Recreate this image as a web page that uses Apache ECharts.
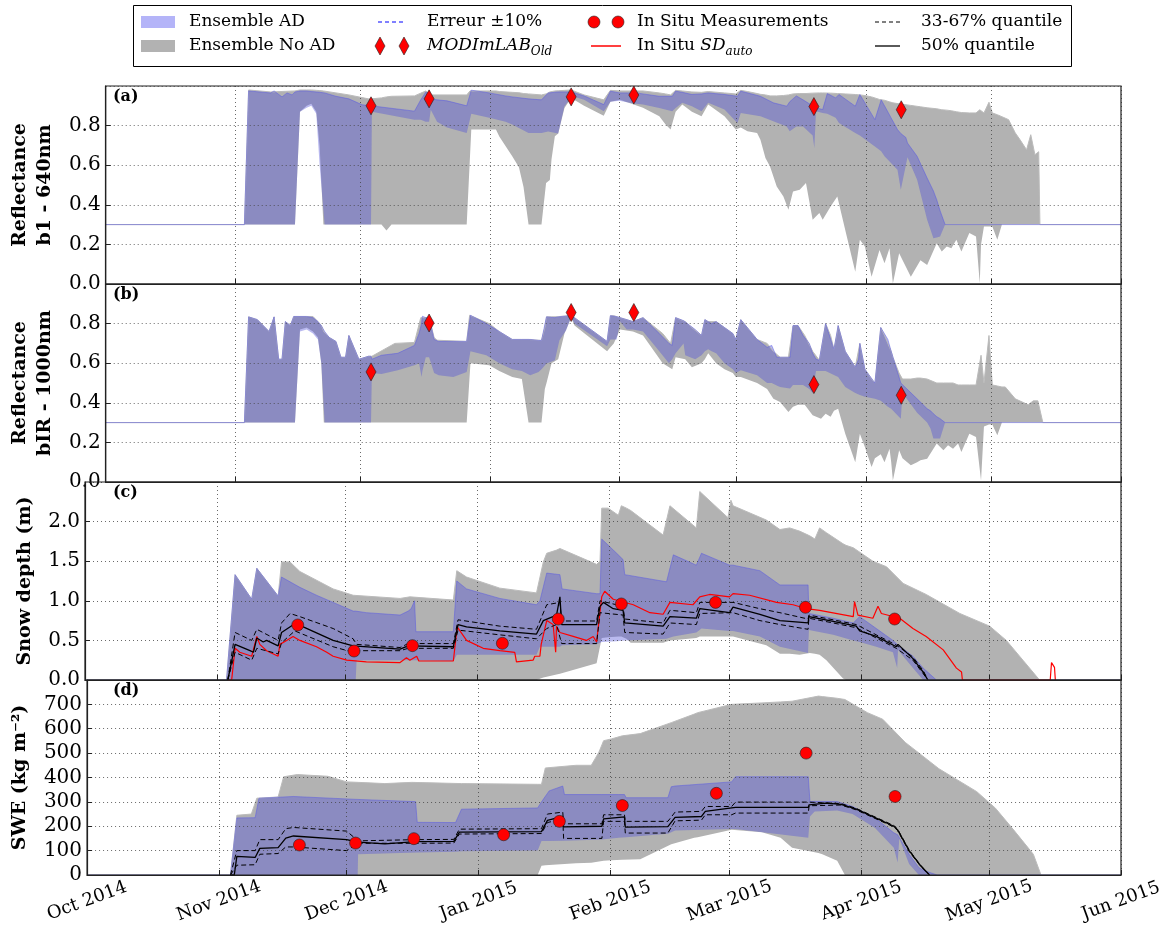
<!DOCTYPE html>
<html><head><meta charset="utf-8">
<script src="https://cdn.jsdelivr.net/npm/echarts@6/dist/echarts.min.js"></script>
<style>html,body{margin:0;padding:0;background:#fff}#c{width:1173px;height:926px}</style>
</head><body><div id="c"></div>
<script>
// x positions are days since 1 Oct 2014
const monthDays = [0, 31, 61, 92, 123, 151, 182, 212, 243];
const monthLabels = ['Oct 2014','Nov 2014','Dec 2014','Jan 2015','Feb 2015','Mar 2015','Apr 2015','May 2015','Jun 2015'];

// bands: [day, lower, upper]
const A_GREY = [[0,0.3,0.3],[33.2,0.3,0.3],[34.2,0.3,0.98],[39.5,0.3,0.97],[45.3,0.3,0.975],[46.5,0.87,0.98],[48.1,0.9,0.98],[49.2,0.91,0.98],[50.4,0.87,0.978],[51.2,0.7,0.977],[52.1,0.3,0.975],[58.2,0.3,0.955],[62.9,0.3,0.935],[63.6,0.3,0.935],[66.0,0.3,0.94],[67.2,0.27,0.945],[68.4,0.3,0.948],[73.9,0.3,0.95],[76.6,0.3,0.975],[77.8,0.3,0.955],[86.4,0.3,0.955],[87.2,0.78,0.975],[87.5,0.78,0.98],[93.4,0.78,0.975],[94.2,0.745,0.972],[97.3,0.645,0.968],[98.9,0.59,0.966],[100.0,0.49,0.962],[101.2,0.3,0.96],[104.3,0.3,0.955],[105.4,0.51,0.96],[106.3,0.525,0.97],[106.7,0.63,0.975],[107.5,0.746,0.975],[108.3,0.76,0.976],[109.8,0.889,0.978],[111.4,0.94,0.98],[114.5,0.9,0.955],[119.2,0.85,0.93],[120.8,0.92,0.978],[123.1,0.93,0.975],[128.6,0.89,0.975],[132.5,0.847,0.965],[134.0,0.805,0.96],[135.2,0.78,0.955],[136.4,0.87,0.978],[138.0,0.906,0.975],[140.3,0.87,0.97],[142.6,0.847,0.968],[144.2,0.906,0.972],[148.1,0.847,0.965],[150.8,0.78,0.96],[152.0,0.79,0.978],[153.6,0.771,0.972],[155.9,0.763,0.962],[156.7,0.729,0.958],[157.9,0.636,0.955],[159.0,0.594,0.95],[160.6,0.493,0.95],[162.2,0.442,0.952],[163.4,0.375,0.955],[164.5,0.467,0.96],[166.1,0.476,0.962],[167.6,0.51,0.962],[169.2,0.324,0.964],[170.8,0.358,0.965],[171.6,0.324,0.965],[173.5,0.392,0.964],[175.1,0.442,0.962],[177.0,0.273,0.96],[179.4,0.062,0.957],[180.5,0.223,0.955],[181.7,0.189,0.952],[183.3,0.037,0.945],[185.2,0.172,0.932],[186.4,0.105,0.928],[187.6,0.18,0.92],[188.4,0.003,0.915],[189.9,0.155,0.91],[192.7,0.037,0.902],[195.0,0.12,0.895],[196.6,0.096,0.89],[198.9,0.206,0.885],[200.1,0.164,0.88],[201.3,0.189,0.878],[202.4,0.18,0.875],[203.6,0.223,0.87],[204.8,0.164,0.866],[206.7,0.257,0.864],[208.3,0.24,0.864],[209.2,0.003,0.88],[209.5,0.2,0.889],[210.2,0.29,0.864],[211.4,0.29,0.918],[212.2,0.29,0.864],[213.4,0.223,0.855],[214.5,0.3,0.845],[216.1,0.3,0.83],[217.7,0.3,0.763],[218.8,0.3,0.73],[220.4,0.3,0.678],[221.4,0.3,0.754],[222.4,0.3,0.653],[223.3,0.3,0.668],[223.6,0.3,0.3],[243,0.3,0.3]];
const A_BLUE = [[0,0.3,0.3],[33.2,0.3,0.3],[34.2,0.3,0.975],[39.5,0.3,0.965],[40.3,0.3,0.975],[42.2,0.3,0.945],[43.4,0.3,0.965],[44.6,0.3,0.955],[45.3,0.3,0.97],[46.5,0.87,0.975],[48.1,0.89,0.975],[49.2,0.9,0.972],[50.4,0.86,0.97],[51.2,0.6,0.968],[52.4,0.3,0.965],[55.1,0.3,0.948],[58.2,0.3,0.935],[61.4,0.3,0.905],[63.5,0.3,0.9],[63.7,0.87,0.9],[73.9,0.83,0.873],[75.4,0.83,0.93],[76.6,0.82,0.969],[77.4,0.82,0.96],[77.8,0.88,0.935],[79.3,0.82,0.93],[81.7,0.79,0.925],[86.4,0.763,0.9],[87.5,0.86,0.979],[91.8,0.84,0.965],[95.7,0.82,0.95],[97.3,0.805,0.945],[101.2,0.763,0.935],[104.3,0.763,0.93],[105.9,0.77,0.965],[108.3,0.76,0.97],[109.8,0.898,0.97],[111.0,0.93,0.97],[111.5,0.95,0.97],[114.5,0.93,0.95],[119.2,0.872,0.906],[120.8,0.92,0.974],[123.0,0.925,0.965],[124.7,0.918,0.965],[127.0,0.91,0.965],[128.6,0.906,0.96],[132.5,0.889,0.948],[135.6,0.872,0.948],[136.4,0.889,0.974],[138.0,0.915,0.968],[140.3,0.898,0.957],[142.6,0.872,0.96],[144.2,0.915,0.965],[148.1,0.881,0.957],[151.2,0.813,0.948],[152.0,0.864,0.974],[156.7,0.847,0.948],[159.8,0.822,0.915],[163.0,0.796,0.898],[163.7,0.771,0.92],[165.3,0.796,0.95],[166.9,0.796,0.93],[169.2,0.75,0.9],[169.6,0.687,0.895],[170.0,0.872,0.89],[171.6,0.864,0.881],[172.7,0.86,0.962],[174.7,0.84,0.94],[175.5,0.813,0.957],[179.4,0.763,0.898],[180.5,0.75,0.957],[184.1,0.695,0.83],[185.6,0.67,0.93],[186.4,0.645,0.9],[189.5,0.577,0.78],[190.3,0.476,0.76],[191.5,0.645,0.74],[191.9,0.64,0.712],[194.2,0.527,0.645],[196.6,0.324,0.535],[198.1,0.231,0.47],[198.9,0.235,0.425],[199.7,0.24,0.37],[200.9,0.3,0.3],[243,0.3,0.3]];

const B_GREY = [[0,0.3,0.3],[33.2,0.3,0.3],[34.2,0.3,0.834],[36.3,0.3,0.82],[39.1,0.3,0.76],[40.3,0.3,0.834],[41.4,0.3,0.62],[42.2,0.3,0.62],[43.0,0.3,0.81],[44.2,0.3,0.79],[45.0,0.3,0.836],[45.3,0.3,0.836],[46.5,0.77,0.836],[48.1,0.78,0.836],[49.6,0.76,0.836],[50.8,0.73,0.81],[51.6,0.6,0.79],[52.2,0.3,0.76],[53.5,0.3,0.73],[55.1,0.3,0.71],[56.3,0.3,0.63],[57.4,0.3,0.63],[58.2,0.3,0.74],[60.6,0.3,0.62],[62.9,0.3,0.635],[63.7,0.3,0.635],[69.2,0.3,0.7],[73.9,0.3,0.705],[75.4,0.3,0.83],[77.4,0.3,0.83],[78.6,0.3,0.73],[79.3,0.3,0.716],[86.4,0.3,0.71],[87.1,0.6,0.842],[87.3,0.6,0.842],[91.8,0.59,0.8],[94.2,0.56,0.76],[97.3,0.53,0.72],[99.6,0.52,0.72],[101.2,0.3,0.72],[104.3,0.3,0.715],[105.1,0.47,0.78],[105.5,0.5,0.834],[106.7,0.6,0.834],[108.3,0.62,0.835],[109.8,0.75,0.838],[111.4,0.83,0.84],[112.2,0.79,0.83],[120.0,0.66,0.71],[120.8,0.68,0.84],[121.6,0.7,0.84],[123.1,0.77,0.83],[126.2,0.76,0.81],[128.6,0.74,0.83],[133.3,0.6,0.75],[135.2,0.57,0.7],[135.6,0.57,0.69],[136.4,0.63,0.83],[138.7,0.62,0.81],[140.3,0.58,0.78],[142.6,0.6,0.74],[143.4,0.62,0.82],[144.2,0.65,0.81],[146.1,0.6,0.81],[148.1,0.57,0.78],[150.1,0.55,0.75],[150.8,0.53,0.72],[152.0,0.53,0.82],[155.9,0.5,0.72],[158.3,0.47,0.7],[159.8,0.42,0.66],[161.4,0.404,0.63],[163.4,0.354,0.63],[164.5,0.38,0.79],[165.7,0.39,0.79],[167.3,0.39,0.74],[169.2,0.337,0.66],[170.8,0.32,0.615],[171.2,0.32,0.62],[172.3,0.345,0.8],[173.5,0.33,0.74],[174.3,0.36,0.67],[175.1,0.38,0.76],[175.3,0.37,0.79],[177.0,0.244,0.66],[179.4,0.1,0.58],[180.5,0.244,0.7],[181.7,0.177,0.57],[183.3,0.076,0.52],[184.1,0.12,0.5],[185.2,0.15,0.72],[185.5,0.14,0.78],[186.4,0.1,0.74],[187.6,0.168,0.68],[188.0,0.1,0.66],[188.4,0.008,0.63],[189.9,0.16,0.55],[190.7,0.12,0.52],[192.7,0.084,0.52],[194.2,0.1,0.525],[195.0,0.11,0.525],[196.6,0.118,0.52],[198.9,0.194,0.5],[200.5,0.16,0.5],[201.6,0.185,0.5],[202.8,0.168,0.5],[204.0,0.194,0.49],[204.8,0.152,0.49],[206.7,0.244,0.49],[208.3,0.227,0.49],[209.5,0.008,0.64],[210.2,0.28,0.5],[211.4,0.29,0.74],[212.2,0.29,0.49],[213.4,0.236,0.485],[214.5,0.3,0.48],[215.3,0.3,0.48],[217.7,0.3,0.42],[220.8,0.3,0.39],[222.0,0.3,0.41],[223.1,0.3,0.41],[224.3,0.3,0.3],[243,0.3,0.3]];
const B_BLUE = [[0,0.3,0.3],[33.2,0.3,0.3],[34.2,0.3,0.834],[36.3,0.3,0.82],[39.1,0.3,0.76],[40.3,0.3,0.834],[41.4,0.3,0.62],[42.2,0.3,0.62],[43.0,0.3,0.81],[44.2,0.3,0.79],[45.0,0.3,0.836],[45.3,0.3,0.836],[46.5,0.76,0.836],[48.1,0.77,0.836],[49.6,0.75,0.83],[50.8,0.72,0.81],[51.6,0.6,0.79],[52.4,0.3,0.76],[53.5,0.3,0.73],[55.1,0.3,0.71],[56.3,0.3,0.63],[57.4,0.3,0.63],[58.2,0.3,0.74],[60.6,0.3,0.62],[62.9,0.3,0.635],[63.5,0.3,0.635],[63.7,0.55,0.62],[66.0,0.545,0.64],[69.9,0.565,0.65],[73.9,0.59,0.69],[75.0,0.6,0.75],[75.6,0.53,0.8],[75.8,0.56,0.837],[76.6,0.63,0.83],[77.4,0.63,0.83],[78.6,0.55,0.72],[79.7,0.539,0.71],[83.2,0.53,0.71],[86.4,0.556,0.71],[87.3,0.66,0.842],[91.1,0.64,0.8],[94.2,0.6,0.76],[97.3,0.57,0.72],[99.6,0.56,0.72],[101.6,0.539,0.72],[103.6,0.556,0.715],[104.3,0.57,0.715],[105.5,0.598,0.834],[107.5,0.615,0.83],[108.6,0.716,0.835],[110.2,0.766,0.838],[111.4,0.834,0.84],[112.2,0.8,0.83],[120.0,0.685,0.71],[120.8,0.72,0.84],[122.3,0.72,0.835],[123.1,0.81,0.83],[124.7,0.77,0.82],[126.2,0.77,0.81],[128.6,0.76,0.83],[132.5,0.66,0.75],[134.8,0.6,0.7],[135.6,0.62,0.69],[136.4,0.65,0.83],[138.3,0.7,0.815],[138.7,0.64,0.81],[141.1,0.62,0.77],[142.6,0.64,0.74],[143.4,0.66,0.82],[144.2,0.67,0.81],[145.0,0.66,0.8],[146.1,0.65,0.81],[148.1,0.6,0.78],[150.1,0.57,0.75],[150.8,0.55,0.72],[152.0,0.564,0.82],[155.9,0.539,0.72],[158.3,0.5,0.68],[159.4,0.5,0.69],[160.6,0.488,0.63],[161.4,0.48,0.63],[163.8,0.472,0.63],[164.5,0.49,0.79],[165.7,0.49,0.79],[166.9,0.49,0.74],[168.4,0.47,0.7],[169.2,0.45,0.65],[170.0,0.56,0.62],[170.8,0.56,0.615],[172.3,0.56,0.8],[174.3,0.54,0.67],[175.3,0.53,0.79],[177.0,0.48,0.66],[179.4,0.45,0.58],[180.2,0.44,0.62],[180.5,0.44,0.7],[181.7,0.43,0.57],[184.1,0.42,0.5],[185.5,0.41,0.78],[187.2,0.38,0.72],[188.0,0.37,0.66],[190.3,0.32,0.5],[190.7,0.45,0.5],[194.2,0.35,0.42],[196.6,0.3,0.37],[197.4,0.27,0.36],[198.1,0.22,0.345],[198.9,0.22,0.33],[199.7,0.22,0.32],[200.9,0.3,0.3],[243,0.3,0.3]];

const C_GREY = [[0,0,0],[33.2,0,0],[35.2,0,1.33],[39.1,0,1.02],[40.3,0,1.41],[45.3,0,1.06],[46.1,0,1.49],[48.1,0,1.49],[50.4,0,1.37],[58.2,0,1.15],[62.9,0,1.07],[73.9,0,1.03],[76.2,0,1.05],[86.4,0,1.01],[87.2,0,1.38],[89.5,0,1.3],[97.3,0,1.16],[105.9,0,1.1],[107.5,0.03,1.49],[108.3,0.04,1.6],[110.6,0.07,1.64],[111.4,0.08,1.66],[120.0,0.21,1.46],[120.8,0.53,1.5],[121.2,0.53,2.17],[122.7,0.54,2.17],[125.1,0.55,2.08],[125.8,0.55,2.2],[127.0,0.52,2.17],[128.0,0.47,2.14],[135.6,0.47,1.83],[137.2,0.5,2.2],[143.4,0.53,1.92],[144.2,0.55,2.38],[150.8,0.55,2.05],[151.5,0.55,2.27],[152.0,0.55,2.2],[159.8,0.44,2.02],[163.0,0.33,1.9],[165.3,0.33,1.92],[167.6,0.32,1.88],[170.0,0.34,1.82],[171.2,0.33,1.78],[172.3,0.32,1.92],[173.9,0.25,1.86],[177.8,0.02,1.72],[178.5,0,1.7],[180.2,0,1.67],[184.8,0,1.5],[188.0,0,1.43],[191.9,0,1.22],[197.3,0,1.08],[205.2,0,0.84],[212.2,0,0.68],[216.1,0,0.5],[220.0,0,0.25],[223.9,0,0],[243,0,0]];
const C_BLUE = [[0,0,0],[33.2,0,0],[35.2,0,1.33],[39.1,0,1.02],[40.3,0,1.41],[45.3,0,1.06],[46.1,0,1.3],[50.4,0,1.17],[54.3,0,1.07],[58.2,0,0.98],[62.9,0,0.87],[63.5,0,0.87],[63.7,0.25,0.87],[66.0,0.25,0.85],[73.9,0.25,0.82],[75.8,0.25,0.87],[76.5,0.25,0.9],[77.3,0.25,1.0],[77.6,0.25,0.61],[86.4,0.24,0.61],[87.2,0.32,1.25],[89.5,0.32,1.15],[97.3,0.32,1.03],[105.9,0.32,0.95],[106.7,0.42,1.0],[108.3,0.42,1.35],[111.4,0.42,1.33],[111.9,0.44,1.15],[120.0,0.45,1.09],[120.8,0.48,1.09],[121.2,0.48,1.78],[124.7,0.49,1.6],[126.2,0.5,1.52],[126.6,0.5,1.33],[136.4,0.52,1.24],[138.0,0.55,1.58],[143.4,0.6,1.45],[144.6,0.65,1.6],[151.2,0.62,1.45],[152.0,0.62,1.45],[158.3,0.55,1.38],[163.0,0.42,1.2],[169.6,0.34,1.2],[169.8,0.63,0.84],[175.5,0.57,0.78],[180.2,0.5,0.72],[181.7,0.48,0.8],[185.6,0.42,0.65],[189.5,0.35,0.5],[190.5,0.15,0.45],[190.7,0.38,0.45],[194.2,0.15,0.3],[196.6,0,0.15],[199.7,0,0],[243,0,0]];

const D_GREY = [[0,0,0],[33.7,0,0],[35.2,0,245],[38.6,0,250],[39.9,0,315],[44.9,0,320],[46.2,0,403],[49.4,0,412],[56.6,0,405],[61.0,0,382],[63.7,0,380],[70.0,0,375],[76.3,0,380],[88.0,0,375],[105.9,0,372],[106.8,38,372],[107.7,40,439],[114.9,48,450],[118.5,50,450],[120.3,55,504],[121.4,58,551],[123.2,60,558],[125.8,62,571],[130.0,65,580],[137.3,126,625],[142.7,153,660],[143.5,155,666],[151.5,186,700],[158.6,175,706],[163.0,153,710],[165.7,112,713],[171.9,90,734],[172.8,85,732],[176.3,58,725],[178.1,0,720],[183.4,0,666],[187.0,0,639],[192.3,0,544],[200.2,0,436],[209.1,0,342],[213.5,0,274],[218.0,0,180],[222.4,0,85],[224.2,0,0],[243,0,0]];
const D_BLUE = [[0,0,0],[33.7,0,0],[35.2,0,234],[39.5,0,235],[40.4,0,315],[48.5,0,322],[61.0,0,312],[63.6,0,310],[63.7,85,310],[77.2,92,301],[77.6,92,216],[86.6,95,215],[88.0,97,270],[105.9,100,275],[106.8,139,300],[108.6,139,345],[111.8,140,365],[112.2,140,330],[121.0,146,330],[124.9,153,330],[126.3,155,330],[126.7,155,317],[136.5,169,317],[137.3,175,362],[138.2,182,365],[151.5,189,382],[152.4,189,403],[169.5,153,403],[169.9,240,301],[171.0,260,302],[176.3,265,301],[179.9,250,281],[185.2,193,234],[189.6,112,173],[190.5,51,165],[190.9,150,165],[193.2,45,85],[195.5,0,30],[196.7,0,18],[199.8,0,0],[243,0,0]];

// lines: [day, value]
const C_MEDIAN = [[33.5,0],[35.2,0.45],[38.7,0.37],[39.5,0.35],[40.3,0.53],[41.8,0.48],[42.6,0.5],[45.3,0.43],[46.1,0.6],[49.2,0.71],[50.4,0.69],[58.2,0.5],[62.9,0.43],[73.9,0.39],[75.8,0.43],[86.4,0.42],[87.5,0.7],[89.5,0.67],[97.3,0.62],[105.9,0.58],[107.5,0.75],[110.6,0.82],[111.4,1.05],[111.8,0.7],[120.0,0.7],[120.8,0.93],[121.6,0.98],[123.9,0.9],[126.2,0.88],[126.6,0.72],[135.6,0.68],[137.2,0.8],[143.4,0.78],[144.2,0.9],[151.2,0.85],[152.0,0.92],[158.3,0.83],[163.0,0.75],[169.6,0.72],[169.8,0.8],[175.5,0.74],[180.9,0.68],[181.7,0.62],[185.6,0.55],[190.3,0.42],[190.7,0.45],[194.2,0.27],[196.6,0.1],[197.7,0]];
const C_Q67 = [[33.5,0],[35.2,0.6],[39.1,0.5],[40.3,0.64],[45.3,0.5],[46.1,0.72],[48.1,0.84],[50.4,0.8],[58.2,0.65],[62.9,0.52],[63.7,0.45],[73.9,0.41],[75.8,0.46],[86.4,0.46],[87.5,0.76],[97.3,0.68],[105.9,0.64],[108.3,0.95],[111.4,0.98],[111.8,0.745],[120.0,0.745],[120.8,1.0],[126.2,0.93],[126.6,0.77],[135.6,0.72],[137.2,0.88],[143.4,0.85],[144.2,0.98],[152.0,0.98],[158.3,0.9],[163.0,0.85],[169.6,0.77],[169.8,0.82],[175.5,0.76],[180.9,0.7],[185.6,0.57],[190.3,0.44],[194.2,0.29],[196.6,0.12],[197.7,0]];
const C_Q33 = [[33.5,0],[35.2,0.35],[39.1,0.25],[40.3,0.4],[45.3,0.33],[46.1,0.47],[49.2,0.62],[58.2,0.42],[62.9,0.35],[63.7,0.37],[73.9,0.37],[75.8,0.4],[86.4,0.4],[87.5,0.63],[97.3,0.57],[105.9,0.52],[108.3,0.65],[110.6,0.7],[111.8,0.46],[120.0,0.46],[120.8,0.85],[126.2,0.82],[126.6,0.6],[135.6,0.58],[137.2,0.72],[143.4,0.7],[144.2,0.84],[152.0,0.85],[158.3,0.75],[163.0,0.7],[169.6,0.64],[169.8,0.78],[175.5,0.72],[180.9,0.66],[185.6,0.53],[190.3,0.4],[194.2,0.25],[196.6,0.08],[197.7,0]];
const C_SD_AUTO = [[33.5,0],[34.4,0],[35.2,0.4],[36.3,0.35],[39.1,0.3],[40.3,0.55],[41.0,0.45],[42.6,0.37],[45.3,0.3],[45.7,0.45],[47.3,0.5],[48.8,0.55],[50.4,0.5],[54.3,0.42],[56.7,0.35],[58.2,0.3],[61.4,0.25],[66.0,0.23],[73.9,0.22],[75.4,0.28],[76.2,0.25],[77.8,0.3],[78.3,0.24],[86.4,0.24],[87.3,0.67],[89.5,0.5],[93.4,0.4],[97.3,0.37],[100.8,0.35],[101.2,0.23],[105.1,0.25],[105.5,0.3],[106.7,0.3],[107.0,0.45],[108.3,0.75],[109.8,0.7],[110.4,0.35],[110.6,0.68],[111.4,0.6],[114.5,0.55],[117.6,0.5],[119.2,0.55],[120.0,0.48],[121.2,1.05],[121.9,1.12],[123.9,1.02],[128.6,0.95],[132.5,0.85],[135.6,0.83],[137.2,0.98],[142.6,0.95],[144.2,1.05],[146.5,1.08],[151.2,1.05],[152.0,1.09],[155.9,1.07],[162.2,0.98],[166.1,0.95],[169.2,0.9],[172.3,0.88],[180.2,0.8],[180.5,0.99],[181.3,0.82],[184.8,0.78],[186.0,0.93],[186.8,0.84],[191.1,0.78],[194.2,0.65],[197.3,0.55],[201.3,0.38],[204.4,0.15],[205.6,0.1],[205.8,0],[226.4,0],[226.7,0.22],[227.4,0.16],[227.6,0]];

const D_MEDIAN = [[33.7,0],[34.6,0],[35.2,76],[39.5,72],[40.6,109],[44.9,112],[46.7,151],[48.5,160],[61.0,145],[63.7,135],[70.0,128],[77.2,137],[86.2,138],[87.5,176],[106.8,178],[108.2,224],[111.8,240],[112.0,197],[121.0,200],[121.4,230],[126.3,238],[126.5,196],[136.5,198],[138.2,236],[144.4,240],[145.3,261],[151.5,275],[152.4,277],[169.5,277],[169.7,288],[173.7,295],[177.2,290],[180.8,270],[185.2,235],[189.6,200],[190.5,185],[193.2,100],[195.8,40],[198.0,0]];
const D_Q67 = [[33.7,0],[35.2,100],[39.5,100],[40.6,145],[44.9,145],[46.7,190],[48.5,195],[61.0,180],[63.7,140],[77.2,145],[86.2,146],[87.5,188],[106.8,190],[108.2,250],[111.8,258],[112.0,210],[121.0,210],[121.4,247],[126.3,247],[126.5,220],[136.5,220],[138.2,258],[144.4,261],[145.3,281],[151.5,281],[152.4,299],[169.5,299],[169.7,292],[177.2,293],[180.8,273],[185.2,238],[189.6,203],[190.5,188],[193.2,103],[195.8,42],[198.0,0]];
const D_Q33 = [[33.7,0],[35.2,40],[39.5,42],[40.6,85],[44.9,88],[46.7,115],[48.5,115],[61.0,100],[63.7,130],[77.2,130],[86.2,131],[87.5,168],[106.8,170],[108.2,215],[111.8,230],[112.0,150],[121.0,150],[121.4,220],[126.3,220],[126.5,172],[136.5,172],[138.2,222],[144.4,225],[145.3,247],[151.5,247],[152.4,254],[169.5,254],[169.7,284],[177.2,287],[180.8,267],[185.2,232],[189.6,197],[190.5,182],[193.2,97],[195.8,38],[198.0,0]];

// markers
const MODIS_DAYS = [63.5, 77.4, 111.4, 126.4, 169.5, 190.4];
const MODIS_B1 = [0.90, 0.935, 0.945, 0.954, 0.896, 0.88];
const MODIS_BIR = [0.556, 0.803, 0.856, 0.856, 0.492, 0.438];
const INSITU_DAYS = [49.9, 63.1, 76.8, 97.9, 111.0, 125.8, 147.9, 169.0, 189.9];
const INSITU_SD = [0.695, 0.366, 0.434, 0.463, 0.77, 0.96, 0.98, 0.918, 0.77];
const INSITU_SWE = [123, 131, 149, 165, 220, 285, 335, 500, 322];

const yMax = [1, 1, 2.5, 800];
const yInterval = [0.2, 0.2, 0.5, 100];
const yNames = ['Reflectance\nb1 - 640nm', 'Reflectance\nbIR - 1000nm', 'Snow depth (m)', 'SWE (kg m\u207B\u00B2)'];
const panelTags = ['(a)', '(b)', '(c)', '(d)'];

const SERIF = "'DejaVu Serif', 'Liberation Serif', serif";
const GREY = '#b2b2b2';
const BLUE = 'rgba(80,80,215,0.40)';
const tops = [86, 284, 482, 680];
const nameGaps = [33, 33, 38, 46];

const grids = tops.map(t => ({left: 85, width: 1036, top: t, height: 198, show: true, borderColor: '#222', borderWidth: 1.2, backgroundColor: 'transparent', z: 5}));
const gridLine = {show: true, lineStyle: {color: '#444', width: 0.8, type: [1, 3]}};

const xAxes = tops.map((t, i) => ({
  type: 'value', gridIndex: i, min: 0, max: 243, z: 3,
  axisLine: {show: true, lineStyle: {color: '#222', width: 1.2}},
  axisTick: {show: true, inside: true, length: 5, customValues: monthDays, lineStyle: {color: '#222'}},
  axisLabel: {show: i === 3, customValues: monthDays, formatter: v => monthLabels[monthDays.indexOf(v)],
    rotate: 20, align: 'center', verticalAlign: 'middle', margin: 26,
    fontFamily: SERIF, fontSize: 18, color: '#000'},
  splitLine: gridLine
}));
const yAxes = tops.map((t, i) => ({
  type: 'value', gridIndex: i, min: 0, max: yMax[i], interval: yInterval[i], z: 3,
  name: yNames[i], nameLocation: 'middle', nameRotate: 90, nameGap: nameGaps[i],
  nameTextStyle: {fontFamily: SERIF, fontWeight: 'bold', fontSize: 19, lineHeight: 25, color: '#000'},
  axisLine: {show: true, lineStyle: {color: '#222', width: 1.2}},
  axisTick: {show: true, inside: true, length: 5, lineStyle: {color: '#222'}},
  axisLabel: {showMaxLabel: false, margin: 5, fontFamily: SERIF, fontSize: 20, color: '#000',
    formatter: v => (i < 3 ? v.toFixed(1) : String(Math.round(v)))},
  splitLine: gridLine
}));

let stackId = 0;
function band(idx, rows, fill, edge) {
  const key = 'band' + (stackId++);
  return [
    {type: 'line', xAxisIndex: idx, yAxisIndex: idx, stack: key, stackStrategy: 'all', z: 1, silent: true,
     symbol: 'none', encode: {x: 1, y: 0}, lineStyle: {opacity: 0, width: 0},
     data: rows.map(r => [r[1], r[0]])},
    {type: 'line', xAxisIndex: idx, yAxisIndex: idx, stack: key, stackStrategy: 'all', z: 1, silent: true,
     symbol: 'none', encode: {x: 1, y: 0}, lineStyle: {color: edge, width: 1},
     areaStyle: {color: fill, opacity: 1},
     data: rows.map(r => [Math.max(0, r[2] - r[1]), r[0]])}
  ];
}
function line(idx, rows, color, width, type) {
  return {type: 'line', xAxisIndex: idx, yAxisIndex: idx, z: 4, silent: true, symbol: 'none',
    lineStyle: {color: color, width: width, type: type || 'solid'}, data: rows};
}
function markers(idx, days, vals, symbol, size) {
  return {type: 'scatter', xAxisIndex: idx, yAxisIndex: idx, z: 6, silent: true, symbol: symbol, symbolSize: size,
    itemStyle: {color: '#ff0000', borderColor: '#222', borderWidth: 0.6, opacity: 1},
    data: days.map((d, k) => [d, vals[k]])};
}

const series = [].concat(
  band(0, A_GREY, GREY, '#bbbbbb'), band(0, A_BLUE, BLUE, 'rgba(90,90,230,0.5)'),
  band(1, B_GREY, GREY, '#bbbbbb'), band(1, B_BLUE, BLUE, 'rgba(90,90,230,0.5)'),
  band(2, C_GREY, GREY, '#bbbbbb'), band(2, C_BLUE, BLUE, 'rgba(90,90,230,0.5)'),
  band(3, D_GREY, GREY, '#bbbbbb'), band(3, D_BLUE, BLUE, 'rgba(90,90,230,0.5)'),
  [
    line(2, C_SD_AUTO, '#ff0000', 1.2),
    line(2, C_Q67, '#000', 1, [5, 3]), line(2, C_Q33, '#000', 1, [5, 3]), line(2, C_MEDIAN, '#000', 1.3),
    line(3, D_Q67, '#000', 1, [5, 3]), line(3, D_Q33, '#000', 1, [5, 3]), line(3, D_MEDIAN, '#000', 1.3),
    markers(0, MODIS_DAYS, MODIS_B1, 'diamond', [10, 18]),
    markers(1, MODIS_DAYS, MODIS_BIR, 'diamond', [10, 18]),
    markers(2, INSITU_DAYS, INSITU_SD, 'circle', 12),
    markers(3, INSITU_DAYS, INSITU_SWE, 'circle', 12)
  ]
);

// legend drawn as graphic
const r1 = 22, r2 = 46;
const LT = {fontFamily: SERIF, fontSize: 17, fill: '#000', verticalAlign: 'middle', align: 'left'};
function txt(x, y, text, rich) { return {type: 'text', x: x, y: y, z: 20, style: Object.assign({text: text, rich: rich}, LT)}; }
function diamond(cx, cy) { return {type: 'polygon', z: 20, shape: {points: [[cx, cy - 9], [cx + 5, cy], [cx, cy + 9], [cx - 5, cy]]}, style: {fill: '#ff0000', stroke: '#222', lineWidth: 0.6}}; }
function dot(cx, cy) { return {type: 'circle', z: 20, shape: {cx: cx, cy: cy, r: 6}, style: {fill: '#ff0000', stroke: '#222', lineWidth: 0.6}}; }
function seg(x1, x2, y, color, dash, w) { return {type: 'line', z: 20, shape: {x1: x1, y1: y, x2: x2, y2: y}, style: {stroke: color, lineWidth: w || 1.2, lineDash: dash || null}}; }
const subRich = {
  i: {fontFamily: SERIF, fontSize: 17, fontStyle: 'italic'},
  n: {fontFamily: SERIF, fontSize: 17},
  s: {fontFamily: SERIF, fontSize: 12, fontStyle: 'italic', padding: [12, 0, 0, 0]}
};
const legendGraphics = [
  {type: 'rect', z: 19, shape: {x: 133.5, y: 5.5, width: 938, height: 61}, style: {fill: '#fff', stroke: '#000', lineWidth: 1}},
  {type: 'rect', z: 20, shape: {x: 141, y: r1 - 6, width: 34, height: 12}, style: {fill: '#b4b4f8'}},
  {type: 'rect', z: 20, shape: {x: 141, y: r2 - 6, width: 34, height: 12}, style: {fill: GREY}},
  txt(189, r1, 'Ensemble AD'), txt(189, r2, 'Ensemble No AD'),
  seg(378, 406, r1, '#0000ff', [4, 3], 1), txt(427, r1, 'Erreur \u00B110%'),
  diamond(380, r2), diamond(404, r2), txt(427, r2, '{i|MODImLAB}{s|Old}', subRich),
  dot(594, r1), dot(618, r1), txt(637, r1, 'In Situ Measurements'),
  seg(591, 621, r2, '#ff0000', null, 1.5), txt(637, r2, '{n|In Situ }{i|SD}{s|auto}', subRich),
  seg(875, 900, r1, '#000', [4, 3], 1), txt(921, r1, '33-67% quantile'),
  seg(875, 900, r2, '#000', null, 1.3), txt(921, r2, '50% quantile')
];
const tagGraphics = panelTags.map((t, i) => ({type: 'text', x: 113, y: tops[i] + 3, z: 20,
  style: {text: t, fontFamily: SERIF, fontWeight: 'bold', fontSize: 16, fill: '#000'}}));

const chart = echarts.init(document.getElementById('c'));
chart.setOption({
  animation: false,
  backgroundColor: '#fff',
  grid: grids,
  xAxis: xAxes,
  yAxis: yAxes,
  series: series,
  graphic: legendGraphics.concat(tagGraphics)
});
</script></body></html>
